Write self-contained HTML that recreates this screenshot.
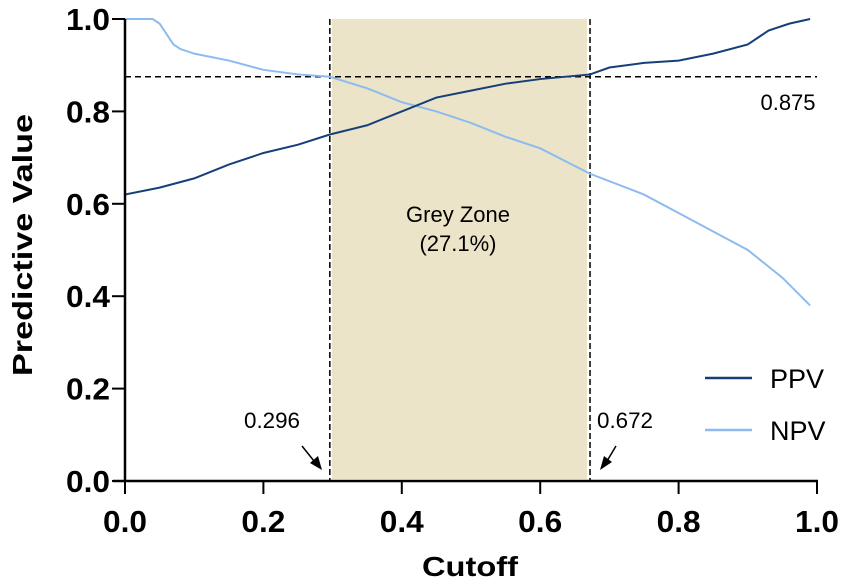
<!DOCTYPE html>
<html><head><meta charset="utf-8"><style>body{margin:0;background:#fff}svg{display:block;font-family:"Liberation Sans",Arial,sans-serif}</style></head>
<body>
<svg id="c" width="851" height="581"></svg>
<script>
const xCat=[0,0.05,0.1,0.15,0.2,0.25,0.296,0.35,0.4,0.45,0.5,0.55,0.6,0.672,0.7,0.75,0.8,0.85,0.9,0.93,0.96,0.99];
const ppv=[0.62,0.635,0.655,0.685,0.71,0.728,0.75,0.77,0.80,0.83,0.845,0.86,0.87,0.88,0.895,0.905,0.91,0.925,0.945,0.975,0.99,1.0];
const npvX=[0,0.04,0.05,0.07,0.08,0.1,0.15,0.2,0.25,0.296,0.35,0.4,0.45,0.5,0.55,0.6,0.672,0.75,0.8,0.85,0.9,0.95,0.99];
const npv=[1.0,1.0,0.99,0.945,0.935,0.925,0.91,0.89,0.88,0.875,0.85,0.82,0.8,0.775,0.745,0.72,0.665,0.62,0.58,0.54,0.5,0.44,0.38];
const xTicks=["0.0","0.2","0.4","0.6","0.8","1.0"];
const yTicks=["0.0","0.2","0.4","0.6","0.8","1.0"];
const cutLow=0.296, cutHigh=0.672, threshold=0.875;
const X=v=>125+v*692, Y=v=>481-v*462;
const s=document.getElementById('c'),NS='http://www.w3.org/2000/svg';
function mk(t,a,txt){const e=document.createElementNS(NS,t);for(const k in a)e.setAttribute(k,a[k]);if(txt!=null)e.textContent=txt;s.appendChild(e);return e;}
let e;
e=mk('rect',{x:X(cutLow)+2,y:Y(1),width:X(cutHigh)-X(cutLow)-5,height:Y(0)-Y(1)-2,fill:'#ebe4c8'});


e=mk('line',{x1:X(0),x2:X(1),y1:Y(threshold),y2:Y(threshold),stroke:'#000','stroke-width':1.5,'stroke-dasharray':'6,4'});


[cutLow,cutHigh].forEach((c,i)=>{e=mk('line',{x1:X(c),x2:X(c),y1:Y(1),y2:Y(0),stroke:'#000','stroke-width':1.5,'stroke-dasharray':'6,3'});

});
function line(xs,ys,col,name){e=mk('polyline',{points:xs.map((x,i)=>X(x)+','+Y(ys[i])).join(' '),fill:'none',stroke:col,'stroke-width':2});

}
line(npvX,npv,'#8dbbef','npv-line');
line(xCat,ppv,'#163f7a','ppv-line');
e=mk('line',{x1:125,x2:125,y1:Y(1),y2:482,stroke:'#000','stroke-width':2.5});


e=mk('line',{x1:113,x2:818,y1:481,y2:481,stroke:'#000','stroke-width':2.5});


xTicks.forEach((t,i)=>{const v=i/5;mk('line',{x1:X(v),x2:X(v),y1:481,y2:494,stroke:'#000','stroke-width':2});
e=mk('text',{x:X(v),y:532,'text-anchor':'middle','font-size':31,'font-weight':'bold',textLength:44,lengthAdjust:'spacingAndGlyphs'},t);

});
yTicks.forEach((t,i)=>{const v=i/5;mk('line',{x1:112,x2:125,y1:Y(v),y2:Y(v),stroke:'#000','stroke-width':2});
e=mk('text',{x:110,y:Y(v)+11,'text-anchor':'end','font-size':31,'font-weight':'bold',textLength:44,lengthAdjust:'spacingAndGlyphs'},t);

});
e=mk('text',{x:470,y:576,'text-anchor':'middle','font-size':28,'font-weight':'bold',textLength:96,lengthAdjust:'spacingAndGlyphs'},'Cutoff');


e=mk('text',{x:0,y:0,'text-anchor':'middle','font-size':28,'font-weight':'bold',transform:'translate(32,245) rotate(-90)',textLength:262,lengthAdjust:'spacingAndGlyphs'},'Predictive Value');


e=mk('text',{x:458,y:222,'text-anchor':'middle','font-size':22},'Grey Zone');


e=mk('text',{x:458,y:251,'text-anchor':'middle','font-size':22},'(27.1%)');


e=mk('text',{x:788,y:110,'text-anchor':'middle','font-size':22},'0.875');


e=mk('text',{x:272,y:428,'text-anchor':'middle','font-size':22,textLength:56,lengthAdjust:'spacingAndGlyphs'},'0.296');


e=mk('text',{x:625,y:428,'text-anchor':'middle','font-size':22,textLength:56,lengthAdjust:'spacingAndGlyphs'},'0.672');


e=mk('path',{d:'M302,446 L318,466',stroke:'#000','stroke-width':1.5,fill:'none'});


mk('path',{d:'M322,470 L310,463 L318,456 Z',fill:'#000'});
e=mk('path',{d:'M616,446 L604,466',stroke:'#000','stroke-width':1.5,fill:'none'});


mk('path',{d:'M600,470 L604,456 L612,462 Z',fill:'#000'});
e=mk('line',{x1:705,x2:752,y1:378,y2:378,stroke:'#163f7a','stroke-width':2.5});


e=mk('text',{x:770,y:388,'font-size':27},'PPV');


e=mk('line',{x1:705,x2:752,y1:430,y2:430,stroke:'#8dbbef','stroke-width':2.5});


e=mk('text',{x:770,y:440,'font-size':27},'NPV');


</script>
</body></html>
